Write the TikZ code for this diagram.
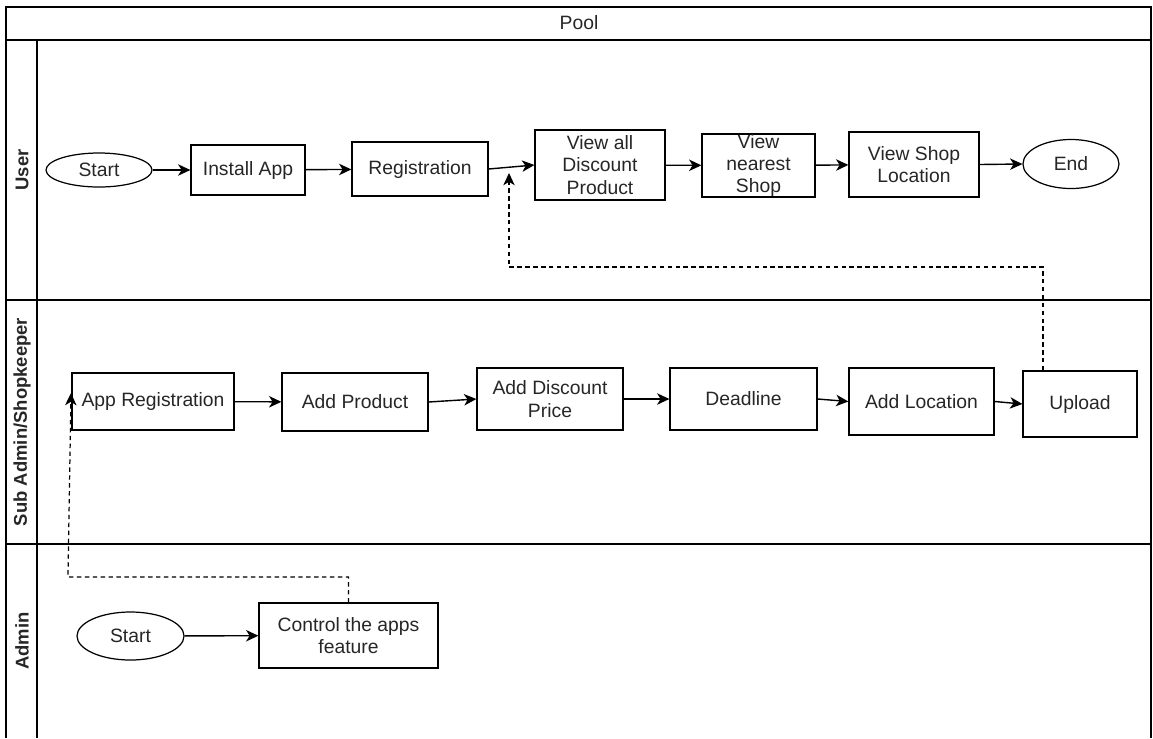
\documentclass[tikz,border=0pt]{standalone}
\usepackage{fontspec}
\setmainfont{Liberation Sans}
\usetikzlibrary{arrows.meta,shapes.geometric}

\tikzset{
	box/.style 2 args={draw, line width=0.7pt, minimum width=#1*0.02cm, minimum height=#2*0.02cm, inner sep=0pt, align=center},
	oval/.style 2 args={draw, ellipse, line width=0.7pt, minimum width=#1*0.02cm, minimum height=#2*0.02cm, inner sep=0pt},
	flow/.style={line width=0.8pt, -{Stealth[length=7pt,width=6.5pt,inset=2pt]}},
	feedback/.style={flow, line width=0.7pt, dash pattern=on 2.5pt off 2pt},
	lanelabel/.style={rotate=90, font=\bfseries\fontsize{10.5}{12}\selectfont},
	frame/.style={line width=0.7pt}
}

\begin{document}
\begin{tikzpicture}[x=0.02cm, y=-0.02cm, font=\fontsize{11}{12.8}\selectfont, text=black!85]
	\useasboundingbox (0,0) rectangle (1153,738);
	
	% pool and lanes
	\draw[frame] (6,738) -- (6,7) -- (1151,7) -- (1151,738);
	\draw[frame] (6,40) -- (1151,40);
	\draw[frame] (37,40) -- (37,738);
	\foreach \y in {300,544}{
		\draw[frame] (6,\y) -- (1151,\y);
	}
	\node (pool) at (579,23) {Pool};
	\node[lanelabel] (luser) at (22,170) {User};
	\node[lanelabel] (lsub) at (22,422) {Sub Admin/Shopkeeper};
	\node[lanelabel] (ladmin) at (22,641) {Admin};
	
	% user
	\node[oval={106}{34}] (ustart) at (99,170) {Start};
	\node[box={114}{50}] (install) at (248,170) {Install App};
	\node[box={136}{54}] (reg) at (420,169) {Registration};
	\node[box={130}{70}] (viewall) at (600,165) {View all\\Discount\\Product};
	\node[box={113}{63}] (nearest) at (758.5,165.5) {View\\nearest\\Shop};
	\node[box={130}{65}] (shoploc) at (914,164.5) {View Shop\\Location};
	\node[oval={96}{49}] (uend) at (1071,164) {End};
	
	% sub admin / shopkeeper
	\node[box={162}{57}] (appreg) at (153,401.5) {App Registration};
	\node[box={146}{58}] (addprod) at (355,402) {Add Product};
	\node[box={146}{62}] (adddisc) at (550,399) {Add Discount\\Price};
	\node[box={147}{62}] (deadline) at (743.5,399) {Deadline};
	\node[box={145}{67}] (addloc) at (921.5,401.5) {Add Location};
	\node[box={114}{66}] (upload) at (1080,404) {Upload};
	
	% admin
	\node[oval={107}{48}] (astart) at (130.5,636) {Start};
	\node[box={179}{65}] (control) at (348.5,635.5) {Control the apps\\feature};
	
	% flow
	\draw[flow] (ustart) -- (install);
	\draw[flow] (install) -- (reg);
	\draw[flow] (reg.east) -- (viewall.west);
	\draw[flow] (viewall) -- (nearest);
	\draw[flow] (nearest) -- (shoploc);
	\draw[flow] (shoploc.east) -- (uend.west);
	
	\draw[flow] (appreg) -- (addprod);
	\draw[flow] (addprod.east) -- (adddisc.west);
	\draw[flow] (adddisc) -- (deadline);
	\draw[flow] (deadline.east) -- (addloc.west);
	\draw[flow] (addloc.east) -- (upload.west);
	
	\draw[flow] (astart) -- (control);
	
	% dashed links
	\coordinate (fbup) at (1043,267);
	\coordinate (fbtip) at (509,173);
	\draw[feedback] (upload.north -| fbup) -- (fbup) -| (fbtip);
	
	\coordinate (fbdown) at (68,577);
	\coordinate (fbtip2) at (71,393);
	\draw[feedback] (control.north) |- (fbdown) -- (fbtip2);
\end{tikzpicture}
\end{document}
